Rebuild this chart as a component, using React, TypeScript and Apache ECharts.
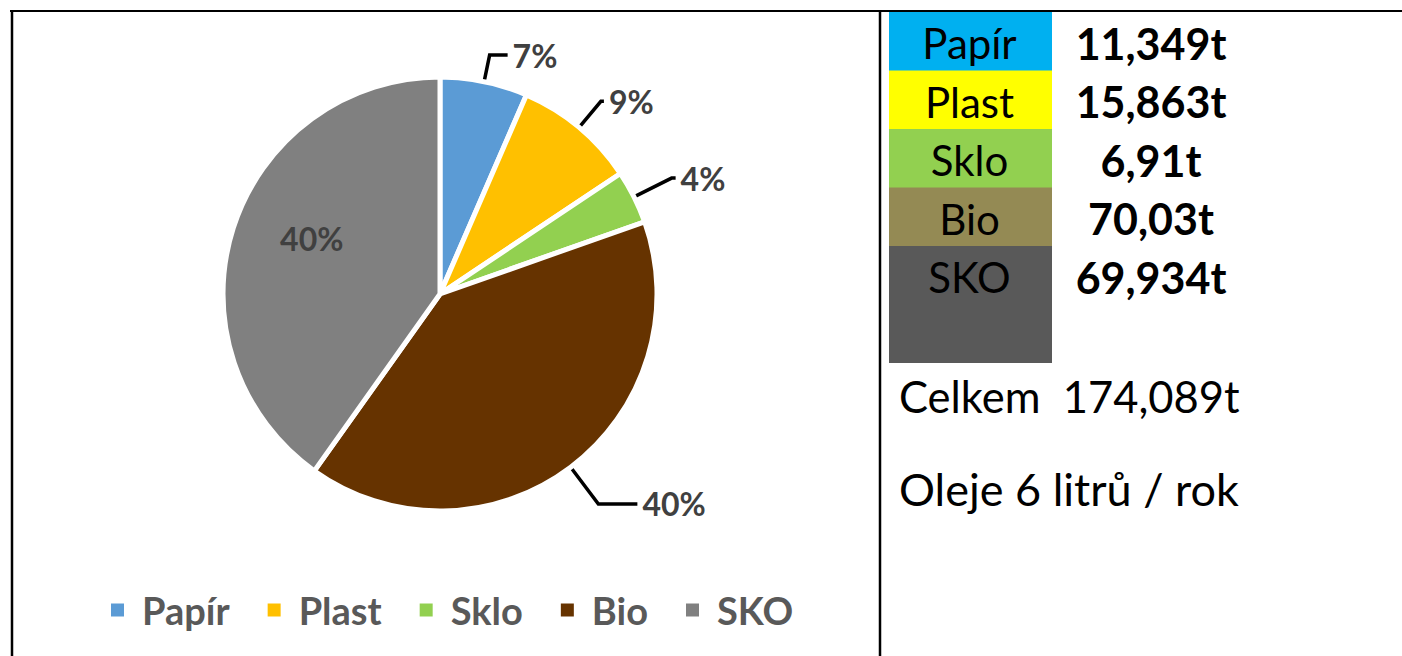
import React, { useEffect, useRef } from "react";
import * as echarts from "echarts";

// ---- data ----
const categories = ["Papír", "Plast", "Sklo", "Bio", "SKO"];
const tonnes = [11.349, 15.863, 6.91, 70.03, 69.934];
const tableValueLabels = ["11,349t", "15,863t", "6,91t", "70,03t", "69,934t"];
const totalLabel = "Celkem  174,089t";
const oilLabel = "Oleje 6 litrů / rok";

// ---- styles ----
const pieColors = ["#5B9BD5", "#FFC000", "#92D050", "#663300", "#808080"];
const tableColors = ["#00B0F0", "#FFFF00", "#92D050", "#948A54", "#595959"];
const FONT = "Lato, 'Open Sans', sans-serif";
const leaderLines = [
  { length: 27, length2: 18 },
  { length: 34, length2: 3 },
  { length: 42, length2: 4 },
  { length: 46, length2: 39 },
  null,
];

// table layout
const TABLE_X = 889;
const TABLE_W = 163;
const TABLE_TOP = 12;
const ROW_H = 58.5;
const LAST_EXTRA = 58;
const VALUE_CX = 1151;

export default function App() {
  const ref = useRef<HTMLDivElement>(null);

  useEffect(() => {
    if (!ref.current) return;
    const chart = echarts.init(ref.current, undefined, { renderer: "svg" });

    const graphics: any[] = [];
    // borders
    graphics.push({ type: "line", shape: { x1: 10, y1: 11, x2: 1402, y2: 11 }, style: { stroke: "#000", lineWidth: 2 } });
    graphics.push({ type: "line", shape: { x1: 12, y1: 10, x2: 12, y2: 656 }, style: { stroke: "#000", lineWidth: 2.5 } });
    graphics.push({ type: "line", shape: { x1: 880, y1: 10, x2: 880, y2: 656 }, style: { stroke: "#000", lineWidth: 2.5 } });

    categories.forEach((name, i) => {
      const top = TABLE_TOP + i * ROW_H;
      const h = ROW_H + (i === categories.length - 1 ? LAST_EXTRA : 0);
      const cy = top + ROW_H / 2 + 2;
      graphics.push({
        type: "rect",
        shape: { x: TABLE_X, y: top, width: TABLE_W, height: h + 0.5 },
        style: { fill: tableColors[i] },
      });
      graphics.push({
        type: "text",
        x: TABLE_X + TABLE_W / 2 - 1,
        y: cy,
        style: {
          text: name,
          fontFamily: FONT,
          fontSize: 42,
          fill: "#000",
          align: "center",
          textAlign: "center",
          verticalAlign: "middle",
          textVerticalAlign: "middle",
        },
      });
      graphics.push({
        type: "text",
        x: VALUE_CX,
        y: cy,
        style: {
          text: tableValueLabels[i],
          fontFamily: FONT,
          fontSize: 43,
          fontWeight: "bold",
          fill: "#000",
          align: "center",
          textAlign: "center",
          verticalAlign: "middle",
          textVerticalAlign: "middle",
        },
      });
    });

    [totalLabel, oilLabel].forEach((t, i) => {
      graphics.push({
        type: "text",
        x: 899,
        y: i === 0 ? 396 : 489,
        style: {
          text: t,
          fontFamily: FONT,
          fontSize: i === 0 ? 43.5 : 45,
          fill: "#000",
          align: "left",
          textAlign: "left",
          verticalAlign: "middle",
          textVerticalAlign: "middle",
        },
      });
    });

    const data = categories.map((name, i) => {
      const item: any = {
        name,
        value: tonnes[i],
        itemStyle: { color: pieColors[i] },
      };
      const ll = leaderLines[i];
      if (ll) {
        item.labelLine = { length: ll.length, length2: ll.length2 };
      } else {
        item.label = { position: "inside", padding: 0 };
        item.labelLine = { show: false };
      }
      return item;
    });

    chart.setOption({
      animation: false,
      backgroundColor: "#fff",
      legend: {
        data: categories,
        left: 104,
        top: 586,
        icon: "rect",
        itemWidth: 15,
        itemHeight: 15,
        itemGap: 36,
        selectedMode: false,
        textStyle: {
          fontFamily: FONT,
          fontSize: 38,
          fontWeight: "bold",
          color: "#595959",
          padding: [0, 0, 0, 12],
        },
      },
      series: [
        {
          type: "pie",
          center: [440, 294],
          radius: 217,
          startAngle: 90,
          clockwise: true,
          avoidLabelOverlap: false,
          itemStyle: { borderColor: "#fff", borderWidth: 5 },
          label: {
            show: true,
            position: "outside",
            formatter: (p: any) => Math.round(p.percent) + "%",
            fontFamily: FONT,
            fontSize: 32,
            fontWeight: "bold",
            color: "#404040",
            padding: [0, 0, 24, 0],
            distanceToLabelLine: 5,
          },
          labelLine: {
            show: true,
            lineStyle: { color: "#000", width: 3.5 },
          },
          labelLayout: (params: any) =>
            params.dataIndex === 4 ? { dx: -22, dy: -22 } : {},
          data,
        },
      ],
      graphic: { elements: graphics },
    });

    return () => chart.dispose();
  }, []);

  return (
    <div
      ref={ref}
      style={{ position: "absolute", left: 0, top: 0, width: 1402, height: 656 }}
    />
  );
}
